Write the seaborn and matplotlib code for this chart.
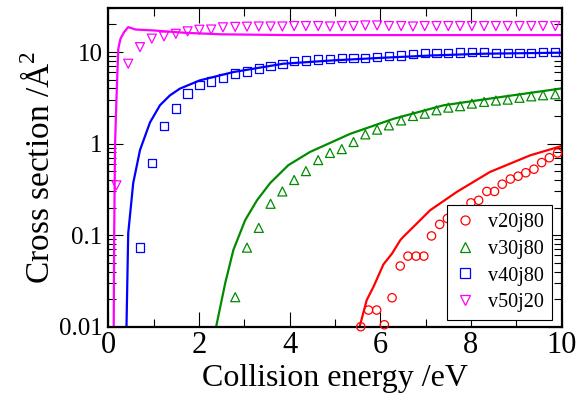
import numpy as np
import pandas as pd
import matplotlib
matplotlib.use("Agg")
import matplotlib.pyplot as plt
from matplotlib.lines import Line2D
from matplotlib.ticker import LogLocator, FixedLocator, NullFormatter
import seaborn as sns

# collision energies (eV) of the points of the three upper sets
energy = [0.18, 0.44, 0.70, 0.96, 1.23, 1.49, 1.75, 2.01, 2.27, 2.53,
          2.80, 3.06, 3.32, 3.58, 3.84, 4.10, 4.36, 4.63, 4.89, 5.15,
          5.41, 5.67, 5.93, 6.19, 6.46, 6.72, 6.98, 7.24, 7.50, 7.76,
          8.02, 8.29, 8.55, 8.81, 9.07, 9.33, 9.59, 9.86]
# v20j80 points use a finer grid
energy_v20 = [5.57, 5.74, 5.92, 6.09, 6.26, 6.44, 6.61, 6.79, 6.96, 7.13,
              7.31, 7.48, 7.65, 7.83, 8.00, 8.17, 8.35, 8.52, 8.69, 8.87,
              9.04, 9.21, 9.39, 9.56, 9.73, 9.91]

# cross sections (A^2), symbols
cs_v20 = [0.010, 0.0152, 0.0152, 0.0105, 0.0207, 0.046, 0.059, 0.059, 0.059, 0.098,
          0.131, 0.152, 0.170, 0.190, 0.225, 0.240, 0.300, 0.300, 0.360, 0.410,
          0.440, 0.480, 0.525, 0.620, 0.700, 0.790]
cs_v30 = [0.021, 0.073, 0.12, 0.22, 0.30, 0.40, 0.50, 0.66, 0.79, 0.87,
          1.04, 1.26, 1.42, 1.58, 1.79, 2.00, 2.12, 2.31, 2.47, 2.56,
          2.73, 2.85, 2.95, 3.02, 3.16, 3.28, 3.37, 3.45]
cs_v40 = [0.073, 0.61, 1.56, 2.41, 3.51, 4.33, 4.77, 5.19, 5.80, 6.14,
          6.58, 7.09, 7.45, 7.96, 8.10, 8.30, 8.45, 8.58, 8.67, 8.67,
          8.80, 9.00, 9.18, 9.58, 9.73, 9.73, 9.83, 9.90, 10.0, 10.0,
          9.73, 9.73, 9.73, 9.83, 10.0, 10.0]
cs_v50 = [0.35, 7.45, 11.3, 14.0, 14.8, 15.8, 16.8, 17.5, 17.6, 18.6,
          18.8, 18.9, 19.0, 19.0, 19.0, 19.2, 19.2, 19.2, 19.0, 19.2,
          19.2, 19.5, 19.5, 19.2, 19.2, 19.0, 19.2, 19.2, 19.2, 19.2,
          19.2, 19.2, 19.2, 19.2, 19.2, 19.2, 19.2, 19.2]

# curves
line_v20_x = [5.52, 5.70, 5.85, 6.07, 6.26, 6.44, 6.51, 6.73, 7.10, 7.69, 8.42, 9.31, 10.0]
line_v20_y = [0.0090, 0.0195, 0.0273, 0.048, 0.063, 0.088, 0.096, 0.123, 0.187, 0.297, 0.49, 0.745, 0.94]
line_v30_x = [2.36, 2.58, 2.76, 3.02, 3.28, 3.57, 3.97, 4.45, 5.34, 6.30, 7.18, 7.40, 8.65, 10.0]
line_v30_y = [0.009, 0.030, 0.069, 0.146, 0.24, 0.37, 0.58, 0.81, 1.28, 1.87, 2.45, 2.62, 3.22, 4.0]
line_v40_x = [0.40, 0.44, 0.55, 0.70, 0.92, 1.14, 1.36, 1.58, 2.02, 2.76, 3.86, 4.96, 6.07, 7.17, 8.28, 10.0]
line_v40_y = [0.009, 0.105, 0.37, 0.85, 1.70, 2.62, 3.36, 3.98, 4.90, 6.04, 7.45, 8.10, 8.66, 9.18, 9.58, 9.83]
line_v50_x = [0.12, 0.13, 0.15, 0.18, 0.22, 0.27, 0.35, 0.44, 0.60, 1.00, 1.70, 2.50, 4.00, 6.00, 8.00, 10.0]
line_v50_y = [0.009, 0.1, 1.0, 3.0, 10.8, 14.0, 16.5, 18.7, 17.6, 17.2, 16.2, 15.6, 15.3, 15.3, 15.3, 15.3]

labels = ["v20j80", "v30j80", "v40j80", "v50j20"]
colors = ["#ff0000", "#008b00", "#0000ff", "#ff00ff"]
markers = ["o", "^", "s", "v"]

pts = pd.concat([
    pd.DataFrame({"E": energy_v20, "cs": cs_v20, "set": labels[0]}),
    pd.DataFrame({"E": energy[10:], "cs": cs_v30, "set": labels[1]}),
    pd.DataFrame({"E": energy[2:], "cs": cs_v40, "set": labels[2]}),
    pd.DataFrame({"E": energy, "cs": cs_v50, "set": labels[3]}),
])
curves = pd.concat([
    pd.DataFrame({"E": line_v20_x, "cs": line_v20_y, "set": labels[0]}),
    pd.DataFrame({"E": line_v30_x, "cs": line_v30_y, "set": labels[1]}),
    pd.DataFrame({"E": line_v40_x, "cs": line_v40_y, "set": labels[2]}),
    pd.DataFrame({"E": line_v50_x, "cs": line_v50_y, "set": labels[3]}),
])

sns.set_style("ticks")
plt.rcParams["font.family"] = ["Liberation Serif", "DejaVu Serif"]
plt.rcParams["mathtext.fontset"] = "custom"
plt.rcParams["mathtext.rm"] = "Liberation Serif"
plt.rcParams["text.color"] = "black"
plt.rcParams["axes.labelcolor"] = "black"
plt.rcParams["xtick.color"] = "black"
plt.rcParams["ytick.color"] = "black"

fig = plt.figure(figsize=(5.79, 3.96), dpi=100)
ax = fig.add_axes([0.187, 0.175, 0.783, 0.804])

sns.lineplot(data=curves, x="E", y="cs", hue="set", palette=dict(zip(labels, colors)),
             sort=False, estimator=None, linewidth=1.6, legend=False, ax=ax)

for lab, col, mk in zip(labels, colors, markers):
    d = pts[pts["set"] == lab]
    ms = 42 if mk in ("^", "v") else 36
    sns.scatterplot(x=d["E"], y=d["cs"], marker=mk, s=ms, facecolor="none",
                    edgecolor=col, linewidth=0.9, ax=ax, clip_on=False, zorder=3)

ax.set_yscale("log")
ax.set_xlim(0, 10)
ax.set_ylim(0.01, 30)

ax.xaxis.set_major_locator(FixedLocator([0, 2, 4, 6, 8, 10]))
ax.xaxis.set_minor_locator(FixedLocator([1, 3, 5, 7, 9]))
ax.yaxis.set_major_locator(FixedLocator([0.01, 0.1, 1, 10]))
ax.yaxis.set_minor_locator(LogLocator(base=10, subs=np.arange(2, 10)))
ax.yaxis.set_minor_formatter(NullFormatter())
ax.set_yticklabels(["0.01", "0.1", "1", "10"])

ax.tick_params(which="both", direction="in", top=True, right=True, width=0.8,
               color="black", labelcolor="black")
ax.tick_params(which="major", length=11)
ax.tick_params(which="minor", length=5.5)
ax.tick_params(axis="x", which="major", labelsize=22, pad=3)
ax.tick_params(axis="y", which="major", labelsize=18, pad=4)
for sp in ax.spines.values():
    sp.set_linewidth(1.6)
    sp.set_color("black")
    sp.set_visible(True)

ax.set_xlabel("Collision energy /eV", fontsize=23, labelpad=3)
ax.set_ylabel("Cross section /Å$^2$", fontsize=24, labelpad=2)

handles = [Line2D([], [], linestyle="none", marker=mk, markersize=6.5,
                  markerfacecolor="none", markeredgecolor=col, markeredgewidth=0.9)
           for col, mk in zip(colors, markers)]
leg = ax.legend(handles, labels, loc="lower right", bbox_to_anchor=(0.978, 0.02),
                borderaxespad=0, fontsize=14.5, frameon=True, fancybox=False,
                framealpha=1, edgecolor="black", handlelength=0.9, handletextpad=0.7,
                labelspacing=0.38, borderpad=0.4)
leg.get_frame().set_linewidth(0.8)

fig.savefig("out.png", dpi=100)
